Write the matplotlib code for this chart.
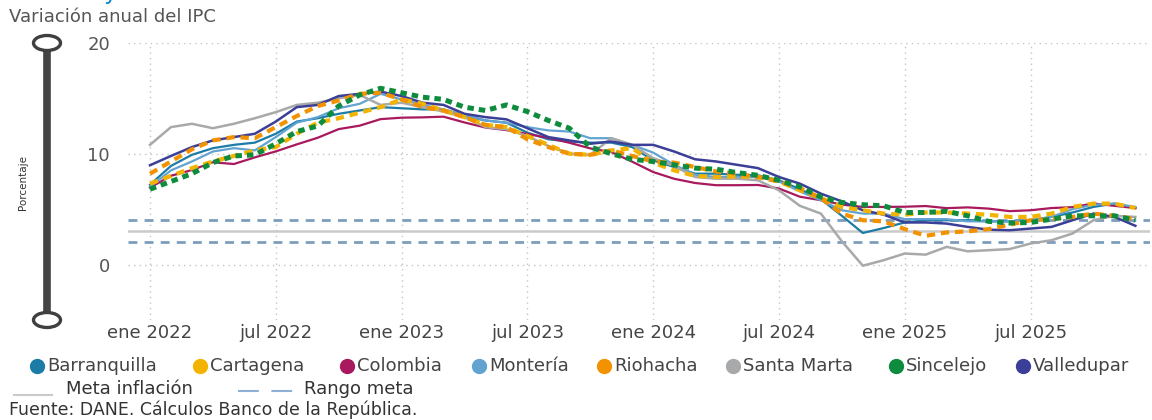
import matplotlib
matplotlib.use('Agg')
import matplotlib.pyplot as plt
from matplotlib.lines import Line2D
from matplotlib.patches import Ellipse

# monthly annual CPI variation, ene 2022 .. dic 2025
months = list(range(48))
tick_pos = [0, 6, 12, 18, 24, 30, 36, 42]
tick_labels = ['ene 2022', 'jul 2022', 'ene 2023', 'jul 2023',
               'ene 2024', 'jul 2024', 'ene 2025', 'jul 2025']

barranquilla = [7.2, 8.9, 9.9, 10.5, 10.8, 11.0, 11.8, 12.9, 13.2, 13.6, 13.9, 14.2,
                14.1, 14.0, 14.0, 13.4, 13.0, 12.8, 11.9, 11.3, 11.1, 11.0, 11.0, 10.6,
                9.4, 8.8, 8.2, 8.2, 8.1, 8.05, 7.6, 6.8, 5.9, 4.4, 2.85, 3.3,
                3.8, 4.0, 4.0, 4.0, 3.9, 3.9, 4.0, 4.3, 4.7, 5.2, 5.5, 5.1]
cartagena = [7.3, 8.0, 8.7, 9.3, 9.8, 10.3, 10.6, 11.8, 12.8, 13.2, 13.7, 14.2,
             14.9, 14.5, 13.9, 13.3, 12.6, 12.4, 11.6, 10.8, 10.0, 9.9, 10.3, 10.5,
             9.2, 8.5, 8.0, 7.9, 7.95, 7.9, 7.5, 6.7, 6.0, 5.2, 4.9, 4.6,
             4.5, 4.7, 4.7, 4.6, 4.5, 4.3, 4.3, 4.6, 5.2, 5.5, 5.5, 5.1]
colombia = [6.94, 8.01, 8.53, 9.23, 9.07, 9.67, 10.21, 10.84, 11.44, 12.22, 12.53, 13.12,
            13.25, 13.28, 13.34, 12.82, 12.36, 12.13, 11.78, 11.43, 10.99, 10.48, 10.15, 9.28,
            8.35, 7.74, 7.36, 7.16, 7.16, 7.18, 6.86, 6.12, 5.81, 5.41, 5.20, 5.20,
            5.22, 5.28, 5.09, 5.16, 5.05, 4.82, 4.90, 5.10, 5.18, 5.51, 5.30, 5.10]
monteria = [7.0, 8.5, 9.3, 10.2, 10.5, 10.3, 11.5, 12.8, 13.3, 14.1, 14.5, 15.4,
            14.9, 14.4, 14.0, 13.5, 13.0, 12.8, 12.4, 12.1, 12.0, 11.4, 11.4, 10.8,
            10.1, 9.0, 8.1, 7.9, 7.9, 7.9, 7.5, 6.6, 5.8, 4.9, 4.6, 4.6,
            4.1, 4.1, 4.1, 3.9, 3.9, 3.9, 4.0, 4.3, 5.0, 5.4, 5.5, 5.2]
riohacha = [8.2, 9.3, 10.4, 11.2, 11.5, 11.4, 12.4, 13.4, 14.3, 14.8, 15.4, 15.5,
            14.9, 14.2, 13.9, 13.3, 12.6, 12.4, 11.3, 10.6, 10.0, 9.9, 10.3, 9.8,
            9.3, 9.2, 8.8, 8.4, 8.2, 7.9, 7.5, 6.9, 6.0, 4.6, 4.0, 3.9,
            3.2, 2.6, 2.9, 3.0, 3.2, 3.6, 4.0, 4.1, 4.3, 4.6, 4.4, 4.1]
santa_marta = [10.8, 12.4, 12.7, 12.3, 12.7, 13.2, 13.75, 14.4, 14.6, 15.0, 15.3, 14.4,
               14.6, 14.2, 13.8, 13.3, 12.4, 12.2, 11.6, 10.7, 10.0, 9.9, 11.4, 10.8,
               9.6, 8.9, 7.9, 7.75, 7.75, 7.6, 6.7, 5.3, 4.6, 2.1, -0.1, 0.4,
               1.0, 0.9, 1.6, 1.2, 1.3, 1.4, 1.9, 2.2, 2.8, 4.0, 4.4, 4.3]
sincelejo = [6.8, 7.5, 8.2, 9.2, 9.8, 9.9, 10.9, 12.0, 12.5, 14.3, 15.3, 15.9,
             15.5, 15.1, 14.9, 14.2, 13.9, 14.4, 13.8, 13.0, 12.3, 10.6, 10.0, 9.5,
             9.3, 9.0, 8.7, 8.6, 8.3, 8.05, 7.6, 7.0, 6.1, 5.6, 5.4, 5.3,
             4.7, 4.7, 4.8, 4.4, 3.9, 3.75, 3.8, 4.1, 4.4, 4.4, 4.4, 4.0]
valledupar = [8.96, 9.8, 10.6, 11.2, 11.5, 11.8, 12.9, 14.2, 14.4, 15.2, 15.4, 15.6,
              15.2, 14.6, 14.4, 13.6, 13.3, 13.1, 12.3, 11.5, 11.2, 10.9, 11.1, 10.8,
              10.8, 10.2, 9.5, 9.3, 9.0, 8.7, 7.9, 7.3, 6.4, 5.7, 4.9, 4.5,
              3.8, 3.8, 3.7, 3.4, 3.15, 3.1, 3.25, 3.4, 4.0, 4.6, 4.3, 3.5]

meta = 3
rango = [2, 4]

names = ['Barranquilla', 'Cartagena', 'Colombia', 'Montería', 'Riohacha',
         'Santa Marta', 'Sincelejo', 'Valledupar']
series = [barranquilla, cartagena, colombia, monteria, riohacha,
          santa_marta, sincelejo, valledupar]
colors = ['#1b7ca6', '#f2b400', '#a8195e', '#62a3d2', '#f39200',
          '#a8a9aa', '#0e8c3e', '#3b3f98']
# (linewidth, dashes) ; None -> solid
styles = [(1.6, None), (3.0, (2.0, 1.4)), (1.6, None), (1.6, None), (3.0, (2.0, 1.4)),
          (1.8, None), (3.6, (1.3, 1.0)), (1.8, None)]

W, H = 1152, 420


def fx(px):
    return px / W


def fy(py):
    return 1 - py / H


fig = plt.figure(figsize=(11.52, 4.2), dpi=100)
ax = fig.add_axes([0.1111, 0.238, 0.8872, 0.660])

ax.axhline(meta, color='#cacaca', lw=1.8, zorder=1)
for r in rango:
    ax.axhline(r, color='#7d9dbd', lw=2.0, dashes=(3.2, 2.6), zorder=1)

for name, vals, col, (lw, ds) in zip(names, series, colors, styles):
    if ds is None:
        ax.plot(months, vals, color=col, lw=lw, zorder=3, solid_joinstyle='round')
    else:
        ax.plot(months, vals, color=col, lw=lw, dashes=ds, zorder=4)

ax.set_xlim(-1.05, 47.7)
ax.set_ylim(-5, 20)
ax.set_yticks([0, 10, 20])
ax.set_xticks(tick_pos)
ax.set_xticklabels(tick_labels)
ax.grid(True, color='#c4c4c4', lw=1.0, linestyle=(0, (1, 3)))
ax.set_axisbelow(True)
for s in ax.spines.values():
    s.set_visible(False)
ax.tick_params(axis='y', length=0, pad=13, labelsize=13, labelcolor='#555555')
ax.tick_params(axis='x', length=0, pad=3, labelsize=13, labelcolor='#444444')

# slider on the left
fig.add_artist(Line2D([fx(47), fx(47)], [fy(43), fy(320)],
                      color='#444444', lw=5.5, transform=fig.transFigure))
for yy in [43, 320]:
    fig.add_artist(Ellipse((fx(47), fy(yy)), fx(27), 15 / H,
                           facecolor='white', edgecolor='#3f3f3f', lw=2.4,
                           transform=fig.transFigure, zorder=5))
fig.text(fx(23), fy(182), 'Porcentaje', rotation=90, ha='center', va='center',
         fontsize=7.5, color='#333333')

# header
fig.text(fx(103), 1.003, 'y', fontsize=17, color='#1b8ac9', ha='left', va='baseline')
fig.text(fx(9), fy(17), 'Variación anual del IPC', fontsize=13,
         color='#555555', ha='left', va='center')

# legend row 1
mark_x = [37, 200, 347, 479, 604, 733, 896, 1023]
for mx, name, col in zip(mark_x, names, colors):
    fig.add_artist(Line2D([fx(mx)], [fy(366)], marker='o', markersize=10,
                          color=col, lw=0, transform=fig.transFigure))
    fig.text(fx(mx + 10), fy(366), name, fontsize=13, color='#444444',
             ha='left', va='center')

# legend row 2
fig.add_artist(Line2D([fx(14), fx(52)], [fy(395)] * 2, color='#cacaca', lw=1.5,
                      transform=fig.transFigure))
fig.text(fx(66), fy(389), 'Meta inflación', fontsize=13, color='#333333',
         ha='left', va='center')
fig.add_artist(Line2D([fx(238), fx(295)], [fy(391)] * 2, color='#8fb0d4', lw=1.5,
                      dashes=(10, 6), transform=fig.transFigure))
fig.text(fx(304), fy(389), 'Rango meta', fontsize=13, color='#333333',
         ha='left', va='center')

fig.text(fx(9), fy(410), 'Fuente: DANE. Cálculos Banco de la República.',
         fontsize=12.5, color='#333333', ha='left', va='center')

fig.savefig('out.png', dpi=100)
